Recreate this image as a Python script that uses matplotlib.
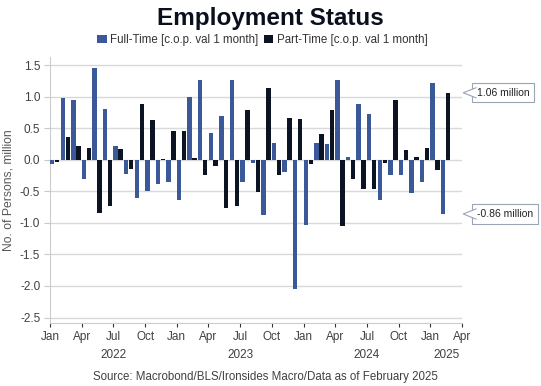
import numpy as np
import matplotlib
matplotlib.use("Agg")
import matplotlib.pyplot as plt
import matplotlib.transforms as mtransforms
from matplotlib.patches import Polygon

plt.rcParams['font.family'] = ['Liberation Sans', 'DejaVu Sans']

# monthly change, million persons, Jan 2022 .. Feb 2025
months = np.arange(38)
full_time = [-0.07, 0.97, 0.95, -0.30, 1.46, 0.81, 0.22, -0.22, -0.60, -0.49, -0.39, -0.35,
             -0.64, 0.99, 1.27, 0.43, 0.69, 1.27, -0.36, -0.05, -0.88, 0.26, -0.19, -2.05,
             -1.04, 0.26, 0.25, 1.27, 0.05, 0.89, 0.73, -0.64, -0.25, -0.25, -0.52, -0.35,
             1.22, -0.86]
part_time = [-0.03, 0.36, 0.22, 0.18, -0.84, -0.74, 0.17, -0.14, 0.89, 0.63, 0.01, 0.46,
             0.45, 0.02, -0.25, -0.10, -0.77, -0.73, 0.78, -0.51, 1.13, -0.25, 0.66, 0.65,
             -0.07, 0.40, 0.78, -1.05, -0.30, -0.47, -0.47, -0.05, 0.95, 0.15, 0.04, 0.18,
             -0.16, 1.06]
tick_pos = np.arange(0, 40, 3)
tick_labels = ['Jan', 'Apr', 'Jul', 'Oct'] * 3 + ['Jan', 'Apr']
years = ['2022', '2023', '2024', '2025']
year_pos = [6, 18, 30, 37.5]

blue = '#3b5998'
dark = '#0c1424'
grid_c = '#d9d9d9'
txt_c = '#404040'

fig = plt.figure(figsize=(5.41, 3.86), dpi=100)
ax = fig.add_axes([50/541, 1-323/386, 412/541, 266/386])

w = 0.42
ax.bar(months + 0.45 - 0.235, full_time, width=w, color=blue, zorder=3, label='Full-Time [c.o.p. val 1 month]')
ax.bar(months + 0.45 + 0.235, part_time, width=w, color=dark, zorder=3, label='Part-Time [c.o.p. val 1 month]')

ax.set_xlim(0, 39)
ax.set_ylim(-2.587, 1.627)
ax.set_yticks(np.arange(-2.5, 1.51, 0.5))
ax.set_yticklabels(['%.1f' % v for v in np.arange(-2.5, 1.51, 0.5)])
ax.yaxis.grid(True, color=grid_c, lw=1, zorder=0)
ax.set_xticks(tick_pos)
ax.set_xticklabels(tick_labels)
ax.tick_params(axis='x', length=3, width=0.8, color='#333333', labelsize=8.5, labelcolor=txt_c, pad=3)
ax.tick_params(axis='y', length=4, width=0.8, color='#c8c8c8', labelsize=8.5, labelcolor=txt_c, pad=3)
for s in ['top', 'right']:
    ax.spines[s].set_visible(False)
for s in ['left', 'bottom']:
    ax.spines[s].set_color('#cccccc')
ax.set_ylabel('No. of Persons, million', fontsize=8.7, color='#595959', labelpad=4)

# year labels under month labels
for yr, p in zip(years, year_pos):
    ax.text(p, -0.098, yr, transform=ax.get_xaxis_transform(), ha='center', va='top',
            fontsize=8.5, color=txt_c)

# callouts for the last values
trans = mtransforms.blended_transform_factory(ax.transAxes, ax.transData)
for val, lab in [(part_time[-1], '%.2f million' % part_time[-1]),
                 (full_time[-1], '%.2f million' % full_time[-1])]:
    ax.text(1.036, val, lab, transform=trans, ha='left', va='center', fontsize=7.5,
            color='#222222', clip_on=False,
            bbox=dict(boxstyle='square,pad=0.45', fc='white', ec='#9aa4b4', lw=0.8))
    d = 0.08
    tri = Polygon([(1.003, val), (1.034, val + d), (1.034, val - d)], closed=True,
                  transform=trans, fc='white', ec='none', clip_on=False, zorder=5)
    ax.add_patch(tri)
    ax.plot([1.034, 1.003, 1.034], [val + d, val, val - d], transform=trans, color='#9aa4b4',
            lw=0.8, clip_on=False, zorder=6)

fig.text(0.5, 0.952, 'Employment Status', ha='center', va='center', fontsize=17.5,
         fontweight='bold', color='#0a0f1e')
fig.legend(loc='center', bbox_to_anchor=(0.485, 1-40/386), ncol=2, frameon=False, fontsize=8.3,
           handlelength=0.8, handleheight=0.8, handletextpad=0.3, columnspacing=0.5,
           labelcolor='#333333')
fig.text(0.49, 1-377/386, 'Source: Macrobond/BLS/Ironsides Macro/Data as of February 2025',
         ha='center', va='center', fontsize=8.3, color=txt_c)

fig.savefig('out.png', dpi=100)
